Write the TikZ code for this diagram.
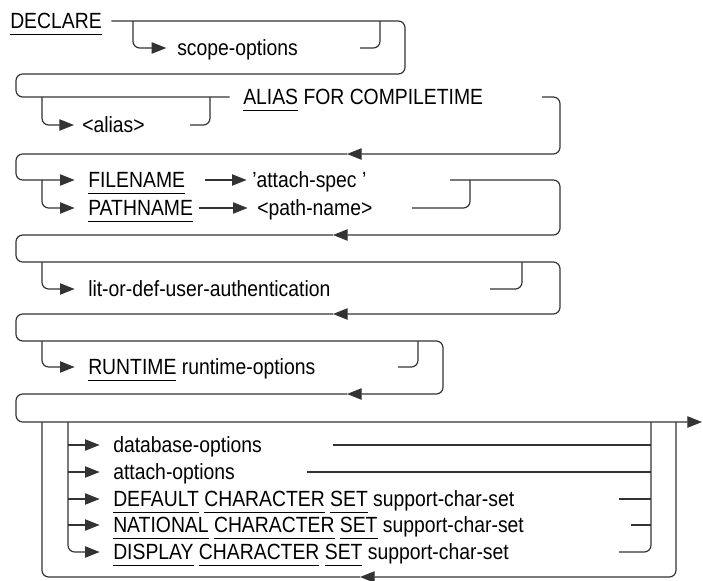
\documentclass[tikz,border=0pt]{standalone}
\usepackage{fontspec}
\setmainfont{Liberation Sans}[FakeStretch=0.88]
\usetikzlibrary{arrows.meta}

% keyword with its own underline
\newcommand\kw[1]{\vtop{\hbox{#1}\kern3.6pt\hrule height .8pt}}

\begin{document}
\begin{tikzpicture}[
    x=0.75pt, y=-0.75pt,
    font=\fontsize{16.5}{19}\selectfont,
    rail/.style={draw=black!80, line width=0.9pt, rounded corners=5pt},
    arr/.style={-{Triangle[length=11pt,width=8.5pt]}},
    feed/.style={rail, arr, shorten >=10pt},
    word/.style={anchor=west, inner sep=0pt, text height=11.8pt, text depth=0pt},
  ]
    \useasboundingbox (0,0) rectangle (703,581);

    % DECLARE
    \node[word] (declare) at (10,21) {\kw{DECLARE}};
    \node[word] (scope) at (177,48) {scope-options};
    \node[word] (alias) at (243,97) {\kw{ALIAS} FOR COMPILETIME};
    \node[word] (aliasname) at (82,125) {<alias>};
    \draw[rail, shorten <=7pt, shorten >=10pt] (declare.east) -- (405,21) -- (405,74) -- (16,74) -- (16,97) -- (alias.west);
    \draw[feed, shorten >=8pt] (133,21) -- (133,48) -- (scope.west);
    \draw[rail] (360,48) -- (380,48) -- (380,21);
    \draw[feed, shorten >=6pt] (42,97) -- (42,125) -- (aliasname.west);
    \draw[rail] (190,125) -- (210,125) -- (210,97);
    \draw[rail, arr] (542,97) -- (560,97) -- (560,154) -- (347,154);

    % FILENAME / PATHNAME
    \node[word] (filename) at (88,180) {\kw{FILENAME}};
    \node[word] (pathname) at (88,208) {\kw{PATHNAME}};
    \node[word] (spec) at (252,180) {’attach-spec ’};
    \node[word] (pathspec) at (257,208) {<path-name>};
    \draw[feed] (347,154) -- (16,154) -- (16,180) -- (filename.west);
    \draw[feed] (42,180) -- (42,208) -- (pathname.west);
    \draw[rail, arr, shorten <=15pt, shorten >=4pt] (filename.east) -- (spec.west);
    \draw[rail, arr, shorten <=4pt, shorten >=7pt] (pathname.east) -- (pathspec.west);
    \draw[rail, arr] (450,180) -- (560,180) -- (560,235) -- (333,235);
    \draw[rail] (412,208) -- (470,208) -- (470,180);

    % authentication
    \node[word] (auth) at (88,289) {lit-or-def-user-authentication};
    \draw[rail, arr] (333,235) -- (16,235) -- (16,262) -- (560,262) -- (560,314) -- (333,314);
    \draw[feed] (42,262) -- (42,289) -- (auth.west);
    \draw[rail] (490,289) -- (522,289) -- (522,262);

    % RUNTIME
    \node[word] (runtime) at (88,367) {\kw{RUNTIME} runtime-options};
    \draw[rail, arr] (333,314) -- (16,314) -- (16,341) -- (443,341) -- (443,394) -- (347,394);
    \draw[feed] (42,341) -- (42,367) -- (runtime.west);
    \draw[rail] (398,367) -- (418,367) -- (418,341);

    % options
    \node[word] (dbopt) at (113,445) {database-options};
    \node[word] (attopt) at (113,472) {attach-options};
    \node[word] (defcs) at (113,499) {\kw{DEFAULT} \kw{CHARACTER} \kw{SET} support-char-set};
    \node[word] (natcs) at (113,525) {\kw{NATIONAL} \kw{CHARACTER} \kw{SET} support-char-set};
    \node[word] (dispcs) at (113,552) {\kw{DISPLAY} \kw{CHARACTER} \kw{SET} support-char-set};
    \coordinate (rail6) at (68,422);
    \draw[rail, arr] (347,394) -- (16,394) -- (16,422) -- (702,422);
    \draw[feed] (rail6) -- (rail6 |- dispcs.west) -- (dispcs.west);
    \foreach \n in {dbopt,attopt,defcs,natcs}
      \draw[feed] (rail6 |- \n.west) -- (\n.west);
    \foreach \y/\x in {445/333, 472/307, 499/619, 525/631}
      \draw[rail] (\x,\y) -- (651,\y);
    \draw[rail] (619,552) -- (651,552) -- (651,422);
    \draw[rail, arr] (676,422) -- (676,577) -- (360,577);
    \draw[rail] (360,577) -- (42,577) -- (42,422);
  \end{tikzpicture}
\end{document}
